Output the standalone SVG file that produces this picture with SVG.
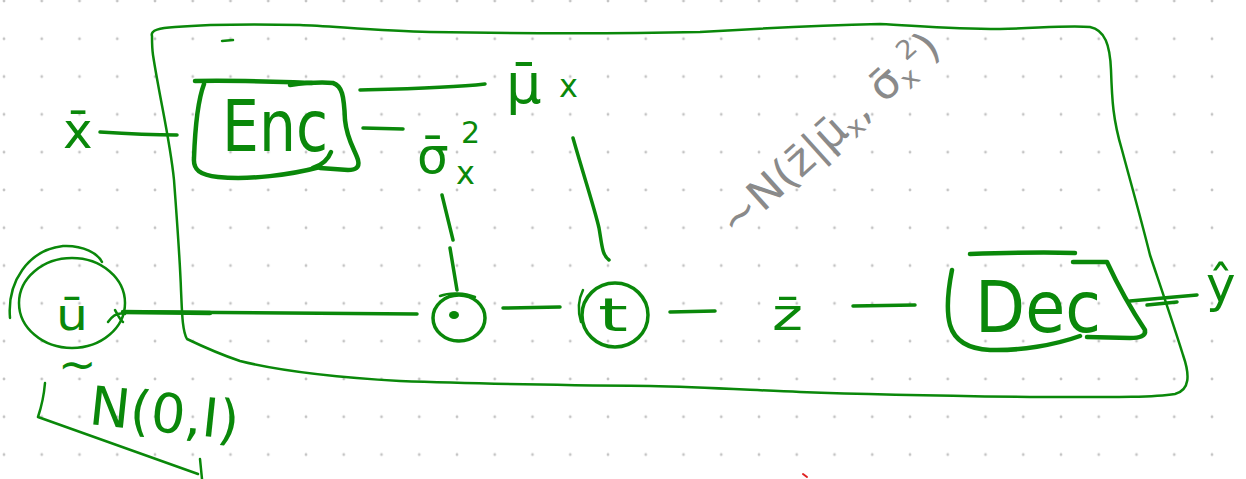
<svg xmlns="http://www.w3.org/2000/svg" width="1246" height="479" viewBox="0 0 1246 479">
<defs>
<pattern id="dots" x="2" y="-1" width="37.75" height="37.8" patternUnits="userSpaceOnUse">
<circle cx="2" cy="2" r="1.4" fill="#c4c4c4"/>
</pattern>
<style>
.ink{fill:none;stroke:#0a880a;stroke-linecap:round;stroke-linejoin:round}
.thin{stroke-width:2.5}
.med{stroke-width:3.5}
.bold{stroke-width:4.5}
.lbl{fill:#0a880a;font-family:"DejaVu Sans","Liberation Sans",sans-serif}
.gray{fill:#8a8a8a;font-family:"DejaVu Sans","Liberation Sans",sans-serif}
</style>
</defs>
<rect width="1246" height="479" fill="#ffffff"/>
<rect width="1246" height="479" fill="url(#dots)"/>

<g id="frame">
<path class="ink thin" d="M152,36 C150,30 160,28 175,27 C200,25 250,24 300,25 C330,26 380,31 430,32 C550,34 650,33 700,32 C750,29 800,26 880,24 C920,26 950,29 1000,29 C1040,28 1070,25 1090,27 C1105,30 1110,45 1111,70 C1112,100 1113,120 1122,150 C1130,180 1140,215 1150,255 C1160,285 1172,320 1183,355 C1190,375 1190,390 1175,394 C1150,398 1100,397 1030,397 C950,396 880,395 800,392 C750,390 700,387 650,386 C550,385 480,384 400,381 C330,377 280,371 240,361 C225,356 210,350 187,339 C182,330 182,310 181,290 C180,260 177,220 174,180 C170,140 160,100 153,55 C152,48 152,40 152,36"/>
<path class="ink thin" d="M222,41 L233,40"/>
</g>

<g id="connectors">
<path class="ink med" d="M100,132 C130,134 155,135 177,135"/>
<path class="ink med" d="M360,90 C400,89 450,88 485,84"/>
<path class="ink med" d="M363,128 L403,129"/>
<path class="ink med" d="M442,195 L453,240 M450,248 L457,290"/>
<path class="ink med" d="M573,138 C585,180 595,210 599,228 C602,245 602,255 609,260"/>
<path class="ink bold" d="M123,312 L210,313"/>
<path class="ink med" d="M150,312 C250,313 350,314 417,314"/>
<path class="ink med" d="M503,308 L560,307"/>
<path class="ink med" d="M670,312 L715,311"/>
<path class="ink med" d="M853,306 L915,305"/>
<path class="ink med" d="M1130,301 C1150,299 1175,297 1197,295 M1147,305 L1177,302"/>
</g>

<g id="x">
<text class="lbl" x="63" y="148" font-size="50">x̄</text>
</g>

<g id="enc">
<path class="ink bold" d="M195,81 C240,80 280,82 312,83"/>
<path class="ink bold" d="M204,84 C198,100 195,130 194,158 C193,170 200,175 218,177 C250,180 290,175 320,167"/>
<path class="ink bold" d="M331,152 C328,160 322,165 313,168"/>
<path class="ink bold" d="M290,85 C305,83 320,82 333,83 C342,86 344,95 345,120 C347,140 355,150 358,160 C360,168 355,170 348,170 L320,168"/>
<text class="lbl" x="222" y="151" font-size="72" textLength="106" lengthAdjust="spacingAndGlyphs">Enc</text>
</g>

<g id="mu">
<text class="lbl" x="506" y="103" font-size="56">μ̄</text>
<text class="lbl" x="559" y="97" font-size="32">x</text>
</g>

<g id="sigma">
<text class="lbl" x="417" y="173" font-size="50">σ̄</text>
<text class="lbl" x="461" y="143" font-size="30">2</text>
<text class="lbl" x="456" y="184" font-size="32">x</text>
</g>

<g id="mult">
<ellipse class="ink med" cx="459" cy="318" rx="26" ry="23"/>
<path class="ink thin" d="M440,296 C450,292 465,293 475,297"/>
<ellipse cx="454" cy="315" rx="5" ry="4" fill="#0a880a"/>
</g>

<g id="add">
<ellipse class="ink med" cx="615" cy="315" rx="33" ry="32"/>
<path class="ink thin" d="M583,290 C578,300 578,312 581,322"/>
<text class="lbl" x="598" y="331" font-size="46" textLength="30" lengthAdjust="spacingAndGlyphs">t</text>
</g>

<g id="z">
<text class="lbl" x="772" y="330" font-size="44" textLength="31" lengthAdjust="spacingAndGlyphs">z̄</text>
</g>

<g id="dec">
<path class="ink bold" d="M970,254 C1000,253 1040,252 1075,253"/>
<path class="ink bold" d="M952,270 C948,290 946,310 950,325 C955,342 970,349 990,350 C1020,351 1055,345 1080,336"/>
<path class="ink bold" d="M1073,262 L1107,262 C1120,290 1135,315 1145,330 C1146,336 1140,338 1130,338 L1087,337"/>
<text class="lbl" x="975" y="332" font-size="72" textLength="126" lengthAdjust="spacingAndGlyphs">Dec</text>
</g>

<g id="yhat">
<text class="lbl" x="1206" y="302" font-size="50">ŷ</text>
</g>

<g id="u">
<ellipse class="ink thin" cx="72" cy="303" rx="53" ry="45"/>
<path class="ink thin" d="M10,318 C7,282 28,250 63,246 C84,245 98,254 102,262"/>
<path class="ink thin" d="M108,322 C112,316 118,312 125,314 M115,310 C118,315 120,320 123,322"/>
<text class="lbl" x="56" y="330" font-size="44" textLength="32" lengthAdjust="spacingAndGlyphs">ū</text>
</g>

<g id="prior">
<text class="lbl" x="58" y="380" font-size="46">~</text>
<text class="lbl" x="88" y="424" font-size="54" textLength="150" lengthAdjust="spacingAndGlyphs" transform="rotate(6 88 424)">N(0,I)</text>
<path class="ink thin" d="M45,383 C44,395 42,405 38,417 L198,474 M200,459 L202,479"/>
</g>

<g id="posterior">
<text class="gray" x="735" y="238" font-size="42" textLength="280" lengthAdjust="spacingAndGlyphs" transform="rotate(-42 735 238)">~N(z̄|μ̄<tspan font-size="26" dy="7">x</tspan><tspan dy="-7">, σ̄</tspan><tspan font-size="26" dy="7">x</tspan><tspan font-size="26" dy="-24">2</tspan><tspan dy="17">)</tspan></text>
</g>

<path d="M803,474 L807,477" stroke="#e02020" stroke-width="2" stroke-linecap="round" fill="none"/>
</svg>
